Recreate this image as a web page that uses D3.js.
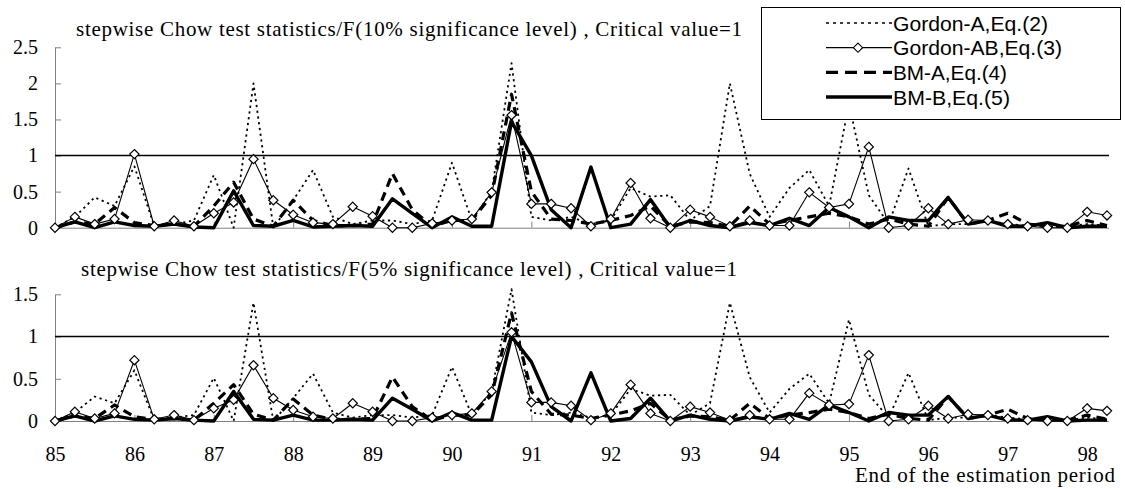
<!DOCTYPE html>
<html><head><meta charset="utf-8">
<script src="https://cdn.jsdelivr.net/npm/d3@7/dist/d3.min.js"></script>
<style>html,body{margin:0;padding:0;background:#fff;}svg{display:block;}</style>
</head><body>
<script>
// ---------- data ----------
const years = ["85","86","87","88","89","90","91","92","93","94","95","96","97","98"];
const quarters = ["Q1","Q2","Q3","Q4"];
// quarterly periods 85Q1 .. 98Q2 (54 periods)
const periods = [];
years.forEach(y => quarters.forEach(q => periods.push(y + q)));
periods.splice(54);

const seriesNames = ["Gordon-A,Eq.(2)", "Gordon-AB,Eq.(3)", "BM-A,Eq.(4)", "BM-B,Eq.(5)"];

// Panel 1: 10% significance level
const gordonA10 = [0,0.15,0.42,0.3,0.85,0.02,0.05,0.1,0.73,0,
  2.0,0,0.38,0.8,0.15,0.05,0.1,0.1,0.05,0.1,
  0.9,0.1,0.5,2.28,0.15,0.1,0.15,0.05,0.1,0.55,
  0.43,0.45,0.1,0.3,2.0,0.75,0.15,0.55,0.8,0.3,
  1.72,0.45,0.05,0.82,0.02,0.05,0.05,0.1,0.05,0.03,
  0.02,0.02,0.05,0.03];
const gordonAB10 = [0,0.15,0.05,0.12,1.02,0.02,0.1,0.02,0.2,0.35,
  0.95,0.38,0.18,0.07,0.05,0.29,0.16,0,0,0.06,
  0.1,0.12,0.49,1.56,0.33,0.33,0.27,0.02,0.12,0.62,
  0.13,0,0.25,0.15,0.02,0.1,0.03,0.03,0.49,0.28,
  0.33,1.12,0,0.03,0.27,0.05,0.11,0.1,0.05,0.02,
  0,0,0.22,0.17];
const bmA10 = [0,0.08,0.05,0.28,0.07,0.03,0.05,0.02,0.3,0.63,
  0.12,0.02,0.38,0.1,0.03,0.03,0.05,0.75,0.25,0.02,
  0.1,0.1,0.45,1.85,0.5,0.12,0.1,0.05,0.1,0.17,
  0.3,0.02,0.08,0.07,0.02,0.3,0.05,0.1,0.15,0.2,
  0.15,0.05,0.12,0.05,0.02,0.42,0.05,0.1,0.2,0.05,
  0.02,0.02,0.1,0.03];
const bmB10 = [0,0.08,0,0.08,0.03,0.02,0.05,0.01,0,0.51,
  0.03,0.02,0.1,0.01,0.02,0.03,0.02,0.4,0.2,0,
  0.15,0.02,0.02,1.47,1.0,0.25,0,0.84,0,0.05,
  0.39,0,0.1,0.03,0,0.07,0.03,0.13,0.03,0.28,
  0.15,0,0.15,0.1,0.1,0.42,0.05,0.1,0.02,0.02,
  0.07,0,0.02,0.02];

// Panel 2: 5% significance level
const gordonA05 = [0,0.1,0.29,0.21,0.6,0.01,0.04,0.07,0.51,0,
  1.4,0,0.27,0.56,0.1,0.04,0.07,0.07,0.04,0.07,
  0.64,0.07,0.35,1.56,0.1,0.07,0.1,0.04,0.07,0.38,
  0.3,0.31,0.07,0.21,1.4,0.52,0.1,0.38,0.56,0.21,
  1.2,0.31,0.04,0.57,0.01,0.04,0.04,0.07,0.04,0.02,
  0.01,0.01,0.04,0.02];
const gordonAB05 = [0,0.11,0.03,0.09,0.72,0.02,0.07,0.01,0.15,0.25,
  0.66,0.27,0.13,0.05,0.03,0.21,0.11,0,0,0.04,
  0.07,0.09,0.35,1.05,0.22,0.22,0.18,0.01,0.09,0.43,
  0.09,0,0.17,0.1,0.01,0.07,0.02,0.02,0.33,0.19,
  0.2,0.78,0,0.02,0.18,0.03,0.08,0.07,0.03,0.01,
  0,0,0.15,0.12];
const bmA05 = [0,0.06,0.03,0.19,0.05,0.02,0.03,0.01,0.21,0.43,
  0.08,0.01,0.26,0.07,0.02,0.02,0.03,0.52,0.17,0.01,
  0.07,0.07,0.31,1.28,0.35,0.08,0.07,0.03,0.07,0.12,
  0.21,0.01,0.06,0.05,0.01,0.21,0.03,0.07,0.1,0.14,
  0.1,0.03,0.08,0.03,0.01,0.29,0.03,0.07,0.14,0.03,
  0.01,0.01,0.07,0.02];
const bmB05 = [0,0.06,0,0.06,0.02,0.01,0.03,0.01,0,0.35,
  0.02,0.01,0.07,0.01,0.01,0.02,0.01,0.27,0.14,0,
  0.1,0.01,0.01,1.0,0.7,0.17,0,0.57,0,0.03,
  0.27,0,0.07,0.02,0,0.05,0.02,0.09,0.02,0.19,
  0.1,0,0.1,0.07,0.07,0.29,0.03,0.07,0.01,0.01,
  0.05,0,0.01,0.01];

const criticalValue = 1;
const titles = [
  "stepwise Chow test statistics/F(10% significance level) , Critical value=1",
  "stepwise Chow test statistics/F(5% significance level) , Critical value=1"
];
const yTicksTop = [0,0.5,1,1.5,2,2.5];
const yTicksBottom = [0,0.5,1,1.5];
const xAxisTitle = "End of the estimation period";

// ---------- drawing ----------
const W = 1125, H = 489;
const svg = d3.select("body").append("svg").attr("width", W).attr("height", H);
const serif = "'Liberation Serif','Times New Roman',serif";
const sans = "'Liberation Sans',Arial,sans-serif";
const axisColor = "#808080";

const x = d3.scalePoint().domain(periods).range([55, 1107]);
const xRight = 1109;

const styles = [
  {width: 1.8, dash: "2.2,3.6"},
  {width: 1.1, dash: null},
  {width: 3.2, dash: "9,6"},
  {width: 3.4, dash: null}
];
const diamond = "M0,-4.6L4.6,0L0,4.6L-4.6,0Z";
const fmt = d => String(+d);

function panel(cfg) {
  const g = svg.append("g");
  const y = d3.scaleLinear().domain([0, cfg.max]).range([cfg.y0, cfg.y1]);
  // x axis
  const yearTicks = periods.filter(p => p.endsWith("Q1"));
  const xa = d3.axisBottom(x).tickValues(yearTicks)
    .tickSizeInner(-6).tickSizeOuter(0).tickPadding(cfg.showX ? 26 : 0)
    .tickFormat(d => cfg.showX ? d.slice(0, 2) : "");
  const gx = g.append("g").attr("transform", `translate(0,${cfg.y0})`).call(xa);
  gx.select(".domain").remove();
  gx.append("line").attr("x1", 55).attr("x2", xRight).attr("y1", 0.5).attr("y2", 0.5)
    .attr("stroke", axisColor).attr("stroke-width", 1);
  gx.selectAll(".tick line").attr("stroke", axisColor);
  gx.selectAll("text").attr("font-family", serif).attr("font-size", 20).attr("fill", "#000");
  // y axis
  const ya = d3.axisLeft(y).tickValues(cfg.ticks).tickFormat(fmt)
    .tickSizeInner(-6).tickSizeOuter(0).tickPadding(17);
  const gy = g.append("g").attr("transform", `translate(55,0)`).call(ya);
  gy.select(".domain").attr("stroke", axisColor);
  gy.selectAll(".tick line").attr("stroke", axisColor);
  gy.selectAll("text").attr("font-family", serif).attr("font-size", 20).attr("fill", "#000");
  // critical value line
  g.append("line").attr("x1", 55).attr("x2", xRight)
    .attr("y1", y(criticalValue)).attr("y2", y(criticalValue))
    .attr("stroke", "#000").attr("stroke-width", 1.6);
  // series
  const line = d3.line().x((d, i) => x(periods[i])).y(d => y(d));
  cfg.series.forEach((s, k) => {
    g.append("path").datum(s).attr("d", line).attr("fill", "none")
      .attr("stroke", "#000").attr("stroke-width", styles[k].width)
      .attr("stroke-dasharray", styles[k].dash)
      .attr("stroke-linejoin", "round");
  });
  g.selectAll("path.mk").data(cfg.series[1]).enter().append("path").attr("class", "mk")
    .attr("d", diamond)
    .attr("transform", (d, i) => `translate(${x(periods[i])},${y(d)})`)
    .attr("fill", "#fff").attr("stroke", "#000").attr("stroke-width", 1.2);
  // title
  g.append("text").attr("x", cfg.tx).attr("y", cfg.ty).text(cfg.title)
    .attr("font-family", serif).attr("font-size", 21)
    .attr("textLength", cfg.tw).attr("lengthAdjust", "spacing");
}

panel({max: 2.5, y0: 227.7, y1: 47.3, ticks: yTicksTop,
  series: [gordonA10, gordonAB10, bmA10, bmB10], showX: false,
  title: titles[0], tx: 76, ty: 36, tw: 666});
panel({max: 1.5, y0: 421, y1: 294.3, ticks: yTicksBottom,
  series: [gordonA05, gordonAB05, bmA05, bmB05], showX: true,
  title: titles[1], tx: 81, ty: 276, tw: 656});

svg.append("text").attr("x", 1115).attr("y", 482).attr("text-anchor", "end")
  .attr("font-family", serif).attr("font-size", 21).text(xAxisTitle)
  .attr("textLength", 260).attr("lengthAdjust", "spacing");

// legend
const legWidths = [155, 169, 114, 117];
const lg = svg.append("g");
lg.append("rect").attr("x", 761.5).attr("y", 7.5).attr("width", 359).attr("height", 112)
  .attr("fill", "#fff").attr("stroke", "#000").attr("stroke-width", 1);
const legY = d3.scalePoint().domain(seriesNames).range([23, 97]);
seriesNames.forEach((n, k) => {
  const cy = legY(n);
  lg.append("line").attr("x1", 826).attr("x2", 892).attr("y1", cy).attr("y2", cy)
    .attr("stroke", "#000").attr("stroke-width", k === 0 ? 1.5 : styles[k].width)
    .attr("stroke-dasharray", k === 2 ? "12,7" : (k === 0 ? "3,4" : styles[k].dash));
  if (k === 1) {
    lg.append("path").attr("d", diamond).attr("transform", `translate(858,${cy})`)
      .attr("fill", "#fff").attr("stroke", "#000").attr("stroke-width", 1.1);
  }
  lg.append("text").attr("x", 893).attr("y", cy + 7.5).text(n)
    .attr("font-family", sans).attr("font-size", 21)
    .attr("textLength", legWidths[k]).attr("lengthAdjust", "spacingAndGlyphs");
});
</script>
</body></html>
